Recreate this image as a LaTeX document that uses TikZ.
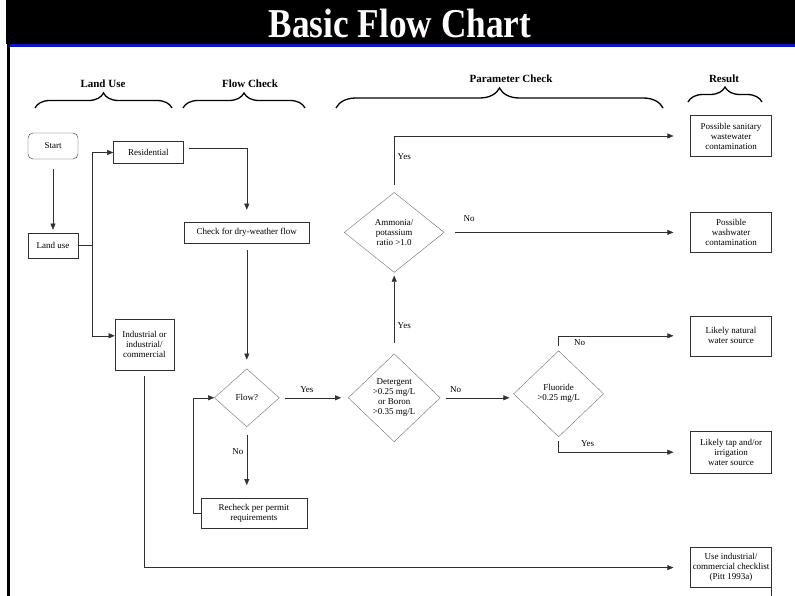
\documentclass[tikz,border=0pt]{standalone}
\usepackage{fontspec}
\setmainfont{Liberation Serif}
\usepackage{tikz}
\usetikzlibrary{shapes.geometric, arrows.meta, positioning, decorations.pathreplacing}
\definecolor{linegray}{HTML}{303030}
\definecolor{diamondgray}{HTML}{6E6E6E}
\definecolor{bannerblue}{HTML}{0A14C8}

\begin{document}
\begin{tikzpicture}[
    x=1pt, y=-1pt,
    every node/.style={font=\fontsize{9}{10}\selectfont},
    box/.style={rectangle, draw=linegray, inner sep=0pt, align=center},
    decision/.style={diamond, draw=diamondgray, inner sep=0pt, aspect=1, align=center},
    header/.style={font=\fontsize{11}{13}\selectfont\bfseries},
    brace/.style={decorate, decoration={brace, amplitude=#1}, line width=1.3pt},
    brace/.default=15pt,
    line/.style={draw=linegray},
    arrow/.style={-{Triangle[length=6pt, width=5pt]}, draw=linegray},
]
\useasboundingbox (0,0) rectangle (795,596);

% Banner and frame
\fill[black] (6,0) rectangle (795,44);
\fill[bannerblue] (10,44) rectangle (795,47.5);
\fill[black] (7,44) rectangle (10,596);
\node[text=white, font=\fontsize{41}{41}\selectfont\bfseries] (title) at (400,23) {\scalebox{0.86}[1]{Basic Flow Chart}};

% Column headers
\node[header] (hland) at (103,84) {Land Use};
\node[header] (hflow) at (250,84) {Flow Check};
\node[header] (hparam) at (511,79) {Parameter Check};
\node[header] (hresult) at (724,79) {Result};
\draw[brace] (35,108) -- (172,108);
\draw[brace] (183,108) -- (305,108);
\draw[brace=20pt] (336,108) -- (663,108);
\draw[brace] (688,102) -- (762,102);

% Land use
\node[box, rounded corners=5pt, minimum width=50pt, minimum height=26pt] (start) at (53,146) {Start};
\node[box, minimum width=50pt, minimum height=25pt, below=73.5pt of start] (landuse) {Land use};
\node[box, minimum width=70pt, minimum height=22pt, above right=69pt and 35pt of landuse] (res) {Residential};
\node[box, minimum width=59pt, minimum height=51pt, below right=61pt and 36.5pt of landuse] (ind) {Industrial or\\industrial/\\commercial};

% Flow check
\node[box, minimum width=125pt, minimum height=21pt, below right=58pt and 0.5pt of res] (chk) {Check for dry-weather flow};
\node[decision, minimum width=65pt, minimum height=58pt, below=125.5pt of chk] (flow) {Flow?};
\node[box, minimum width=106pt, minimum height=30pt, below=71pt of flow, xshift=7pt] (recheck) {Recheck per permit\\requirements};

% Parameter check
\node[decision, minimum width=92pt, minimum height=88pt, right=68.5pt of flow] (det) {Detergent\\>0.25 mg/L\\or Boron\\>0.35 mg/L};
\node[decision, minimum width=100pt, minimum height=80pt, above=81pt of det] (amm) {Ammonia/\\potassium\\ratio >1.0};
\node[decision, minimum width=90pt, minimum height=86pt, right=73pt of det, yshift=4pt] (flu) {Fluoride\\>0.25 mg/L};

% Results
\node[box, minimum width=81pt, minimum height=40pt, right=246pt of amm] (wash) {Possible\\washwater\\contamination};
\node[box, minimum width=81pt, minimum height=41pt, above=55.5pt of wash] (san) {Possible sanitary\\wastewater\\contamination};
\node[box, minimum width=81pt, minimum height=40pt, below=63pt of wash] (nat) {Likely natural\\water source};
\node[box, minimum width=81pt, minimum height=42pt, below=75pt of nat] (tap) {Likely tap and/or\\irrigation\\water source};
\node[box, minimum width=81pt, minimum height=40pt, below=74pt of tap] (use) {Use industrial/\\commercial checklist\\(Pitt 1993a)};

% Arrows
\draw[arrow, shorten <=10pt, shorten >=3pt] (start) -- (landuse);
\draw[line] (landuse.east) -- ++(14,0) coordinate (split);
\draw[arrow] (split) |- (res.west);
\draw[arrow] (split) |- ([yshift=9pt]ind.west);
\draw[arrow, shorten <=5pt, shorten >=12pt] ([yshift=4pt]res.east) -| (chk.north);
\draw[arrow, shorten <=7pt, shorten >=9pt] (chk) -- (flow);
\draw[arrow, shorten <=5pt, shorten >=7pt] (flow) -- node[above=2pt, pos=0.4]{Yes} (det);
\draw[arrow, shorten <=8pt, shorten >=13pt] (flow.south) -- node[left, pos=0.34]{No} (flow.south |- recheck.north);
\draw[arrow] (recheck.west) -- ++(-7,0) |- (flow.west);
\draw[arrow, shorten <=11pt, shorten >=3pt] (det) -- node[right, pos=0.35]{Yes} (amm);
\draw[arrow, shorten <=6pt, shorten >=4pt] (det) -- node[above=2pt, pos=0.21]{No} (det -| flu.west);
\draw[arrow, shorten <=7pt, shorten >=17pt] (amm.north) |- node[right, pos=0.32]{Yes} (san.west);
\draw[arrow, shorten <=11pt, shorten >=17pt] (amm) -- node[above=7pt, pos=0.1]{No} (wash);
\draw[arrow, shorten <=5pt, shorten >=17pt] (flu.north) |- node[below, pos=0.58]{No} (nat.west);
\draw[arrow, shorten <=4pt, shorten >=17pt] (flu.south) |- node[above=2pt, pos=0.61]{Yes} (tap.west);
\draw[arrow, shorten <=5pt, shorten >=17pt] (ind.south) |- (use.west);
\draw[line, line width=1pt] (use.south east) -- ++(0,10);

\end{tikzpicture}
\end{document}
